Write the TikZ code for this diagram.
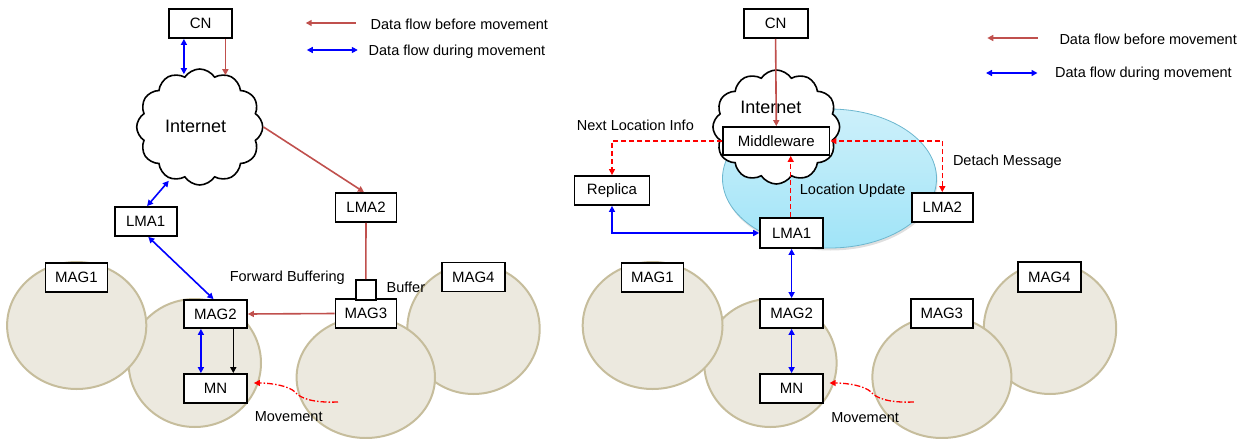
\documentclass[tikz,border=0pt]{standalone}
\usepackage{fontspec}
\setmainfont{Liberation Sans}
\usetikzlibrary{arrows.meta,shapes.symbols,shadows,calc}
\definecolor{dred}{HTML}{C0504D}
\definecolor{zfill}{HTML}{ECE9DF}
\definecolor{zedge}{HTML}{C6BD9C}
\definecolor{ecyanA}{HTML}{CDF0FA}
\definecolor{ecyanB}{HTML}{A0E4F8}
\definecolor{eedge}{HTML}{6DB7CF}
\begin{document}
\begin{tikzpicture}[x=1pt,y=-1pt,
  box/.style={draw,line width=1.8pt,fill=white,inner sep=0pt,minimum height=29pt,font=\fontsize{15}{17}\selectfont},
  zone/.style={draw=zedge,fill=zfill,line width=2pt},
  lbl/.style={font=\fontsize{14.5}{16}\selectfont,inner sep=0pt},
  cloudy/.style={cloud,draw,line width=1.6pt,fill=white,cloud puffs=12,cloud puff arc=115,inner sep=0pt},
  tipA/.style={-{Triangle[length=6pt,width=6pt]}},
  tipB/.style={{Triangle[length=6pt,width=6pt]}-{Triangle[length=6pt,width=6pt]}},
  redflow/.style={tipA,draw=dred,line width=1.6pt},
  redline/.style={draw=dred,line width=1.6pt},
  blueflow/.style={tipB,draw=blue,line width=1.6pt},
  blackflow/.style={tipA,draw=black,line width=1.6pt},
  msgflow/.style={draw=red,line width=1.3pt,dash pattern=on 5pt off 3pt},
  moveflow/.style={tipA,draw=red,line width=1.3pt,dash pattern=on 6pt off 2pt on 1.5pt off 2pt}
]
\useasboundingbox (0,0) rectangle (1245,439);

% ---------------- LEFT PANEL ----------------
\draw[zone] (194.8,363) ellipse [x radius=66.2pt, y radius=64pt];
\draw[zone] (76.7,325.5) ellipse [x radius=69.6pt, y radius=63.5pt];
\draw[zone] (473.5,329) ellipse [x radius=66.2pt, y radius=65pt];
\draw[zone] (365.8,377.5) ellipse [x radius=69.2pt, y radius=60.5pt];

\node[cloudy,minimum width=126pt,minimum height=116pt] (Cl) at (199.7,127) {};
\node[font=\fontsize{18}{20}\selectfont,inner sep=0pt] (Inet) at (195.7,126) {Internet};

\node[box,minimum width=63pt] (CN) at (200.7,23.5) {CN};
\node[box,minimum width=61pt] (LMA2) at (366,207.5) {LMA2};
\node[box,minimum width=62pt] (LMA1) at (145.7,221.5) {LMA1};
\node[box,minimum width=62pt] (MAG1) at (76.5,277.5) {MAG1};
\node[box,minimum width=63pt,minimum height=28pt] (MAG2) at (215.5,314) {MAG2};
\node[box,minimum width=61pt] (MAG3) at (366,313.5) {MAG3};
\node[box,minimum width=63pt] (MAG4) at (473.3,277) {MAG4};
\node[box,minimum width=63pt] (MN) at (215.5,388.5) {MN};
\node[box,minimum width=19.7pt,minimum height=20pt] (Buf) at (365.8,290) {};

\node[lbl] (tFB) at (287.3,278) {Forward Buffering};
\node[lbl] (tBuf) at (405.9,287) {Buffer};
\node[lbl] (tMv) at (288.7,417) {Movement};

% legend left
\coordinate (lgRa) at (355.9,23);
\coordinate (lgRb) at (305.7,23);
\coordinate (lgBa) at (306.8,50);
\coordinate (lgBb) at (357.8,50);
\draw[redflow] (lgRa) -- (lgRb);
\draw[blueflow] (lgBa) -- (lgBb);
\node[lbl,anchor=west] (lgRt) at (370.5,24) {Data flow before movement};
\node[lbl,anchor=west] (lgBt) at (368.5,52) {Data flow during movement};

% connectors left
\draw[blueflow] ([xshift=-16.8pt]CN.south) -- ([xshift=-15.8pt,yshift=-6pt]Cl.north);
\draw[redflow] ([xshift=24.7pt]CN.south) -- ([xshift=25.7pt,yshift=-7pt]Cl.north);
\draw[redflow] (Cl.east) -- ([xshift=-2pt]LMA2.north);
\draw[blueflow] ([xshift=-30.9pt,yshift=5pt]Cl.south) -- ([xshift=1.4pt]LMA1.north);
\draw[blueflow] ([xshift=2.6pt]LMA1.south) -- ([xshift=-2pt]MAG2.north);
\draw[blueflow] ([xshift=-14.6pt]MAG2.south) -- ([xshift=-14.6pt]MN.north);
\draw[blackflow] ([xshift=17.8pt]MAG2.south) -- ([xshift=17.8pt]MN.north);
\draw[redflow] (MAG3.west) -- (MAG2.east);
\draw[redline] (LMA2.south) -- (Buf.north);
\coordinate (mvL) at (338,402);
\draw[moveflow] (mvL) .. controls (312,403) and (300,398) .. (295,392)
  .. controls (289,386) and (272,383) .. ([xshift=6pt,yshift=5.5pt]MN.east);

% ---------------- RIGHT PANEL ----------------
\draw[zone] (770.4,363) ellipse [x radius=66.2pt, y radius=64pt];
\draw[zone] (652.6,325.5) ellipse [x radius=69.9pt, y radius=63.5pt];
\draw[zone] (1050,328.5) ellipse [x radius=66.2pt, y radius=65.5pt];
\draw[zone] (941.9,377) ellipse [x radius=69.5pt, y radius=61pt];

\path[draw=eedge,line width=0.8pt,top color=ecyanA,bottom color=ecyanB,
  drop shadow={opacity=0.25,shadow xshift=1pt,shadow yshift=-2.5pt}]
  (829.5,178.5) ellipse [x radius=107pt, y radius=69.5pt];

\node[cloudy,minimum width=126.7pt,minimum height=114pt] (Clr) at (776.3,127) {};
\node[font=\fontsize{18}{20}\selectfont,inner sep=0pt] (Inetr) at (770.8,107) {Internet};

\node[box,minimum width=64pt] (CNr) at (775.6,23.5) {CN};
\node[box,minimum width=106.5pt,minimum height=28pt] (Mw) at (776.3,141) {Middleware};
\node[box,minimum width=75pt] (Rep) at (612,190.5) {Replica};
\node[box,minimum width=61pt] (LMA2r) at (942.3,207.5) {LMA2};
\node[box,minimum width=63pt,minimum height=30pt] (LMA1r) at (791.6,233) {LMA1};
\node[box,minimum width=62pt] (MAG1r) at (652.4,277.5) {MAG1};
\node[box,minimum width=63pt] (MAG2r) at (791.6,313.5) {MAG2};
\node[box,minimum width=62pt] (MAG3r) at (941.8,313.5) {MAG3};
\node[box,minimum width=63pt,minimum height=30pt] (MAG4r) at (1049.3,277) {MAG4};
\node[box,minimum width=63pt] (MNr) at (791.6,388.5) {MN};

\node[lbl] (tNL) at (635.4,125) {Next Location Info};
\node[lbl] (tDM) at (1007.4,162) {Detach Message};
\node[lbl] (tLU) at (852.7,191) {Location Update};
\node[lbl] (tMvr) at (865.1,418) {Movement};

% legend right
\coordinate (lgRra) at (1037.5,38);
\coordinate (lgRrb) at (987.3,38);
\coordinate (lgBra) at (986,73);
\coordinate (lgBrb) at (1037.5,73);
\draw[redflow] (lgRra) -- (lgRrb);
\draw[blueflow] (lgBra) -- (lgBrb);
\node[lbl,anchor=west] (lgRrt) at (1059.3,39) {Data flow before movement};
\node[lbl,anchor=west] (lgBrt) at (1055,74) {Data flow during movement};

% connectors right
\draw[redflow] (CNr.south) -- (Mw.north);
\draw[msgflow,tipA] (Mw.west) -| (Rep.north);
\draw[msgflow,tipB] (LMA2r.north) |- (Mw.east);
\draw[msgflow,tipA] ([xshift=-0.9pt]LMA1r.north) -- ([xshift=-0.9pt]LMA1r.north |- Mw.south);
\draw[blueflow] (Rep.south) |- (LMA1r.west);
\draw[blueflow] (LMA1r.south) -- (MAG2r.north);
\draw[blueflow] (MAG2r.south) -- (MNr.north);
\coordinate (mvR) at (913.9,402);
\draw[moveflow] (mvR) .. controls (888,403) and (876,398) .. (871,392)
  .. controls (865,386) and (848,383) .. ([xshift=5.6pt,yshift=5.5pt]MNr.east);
\end{tikzpicture}
\end{document}
